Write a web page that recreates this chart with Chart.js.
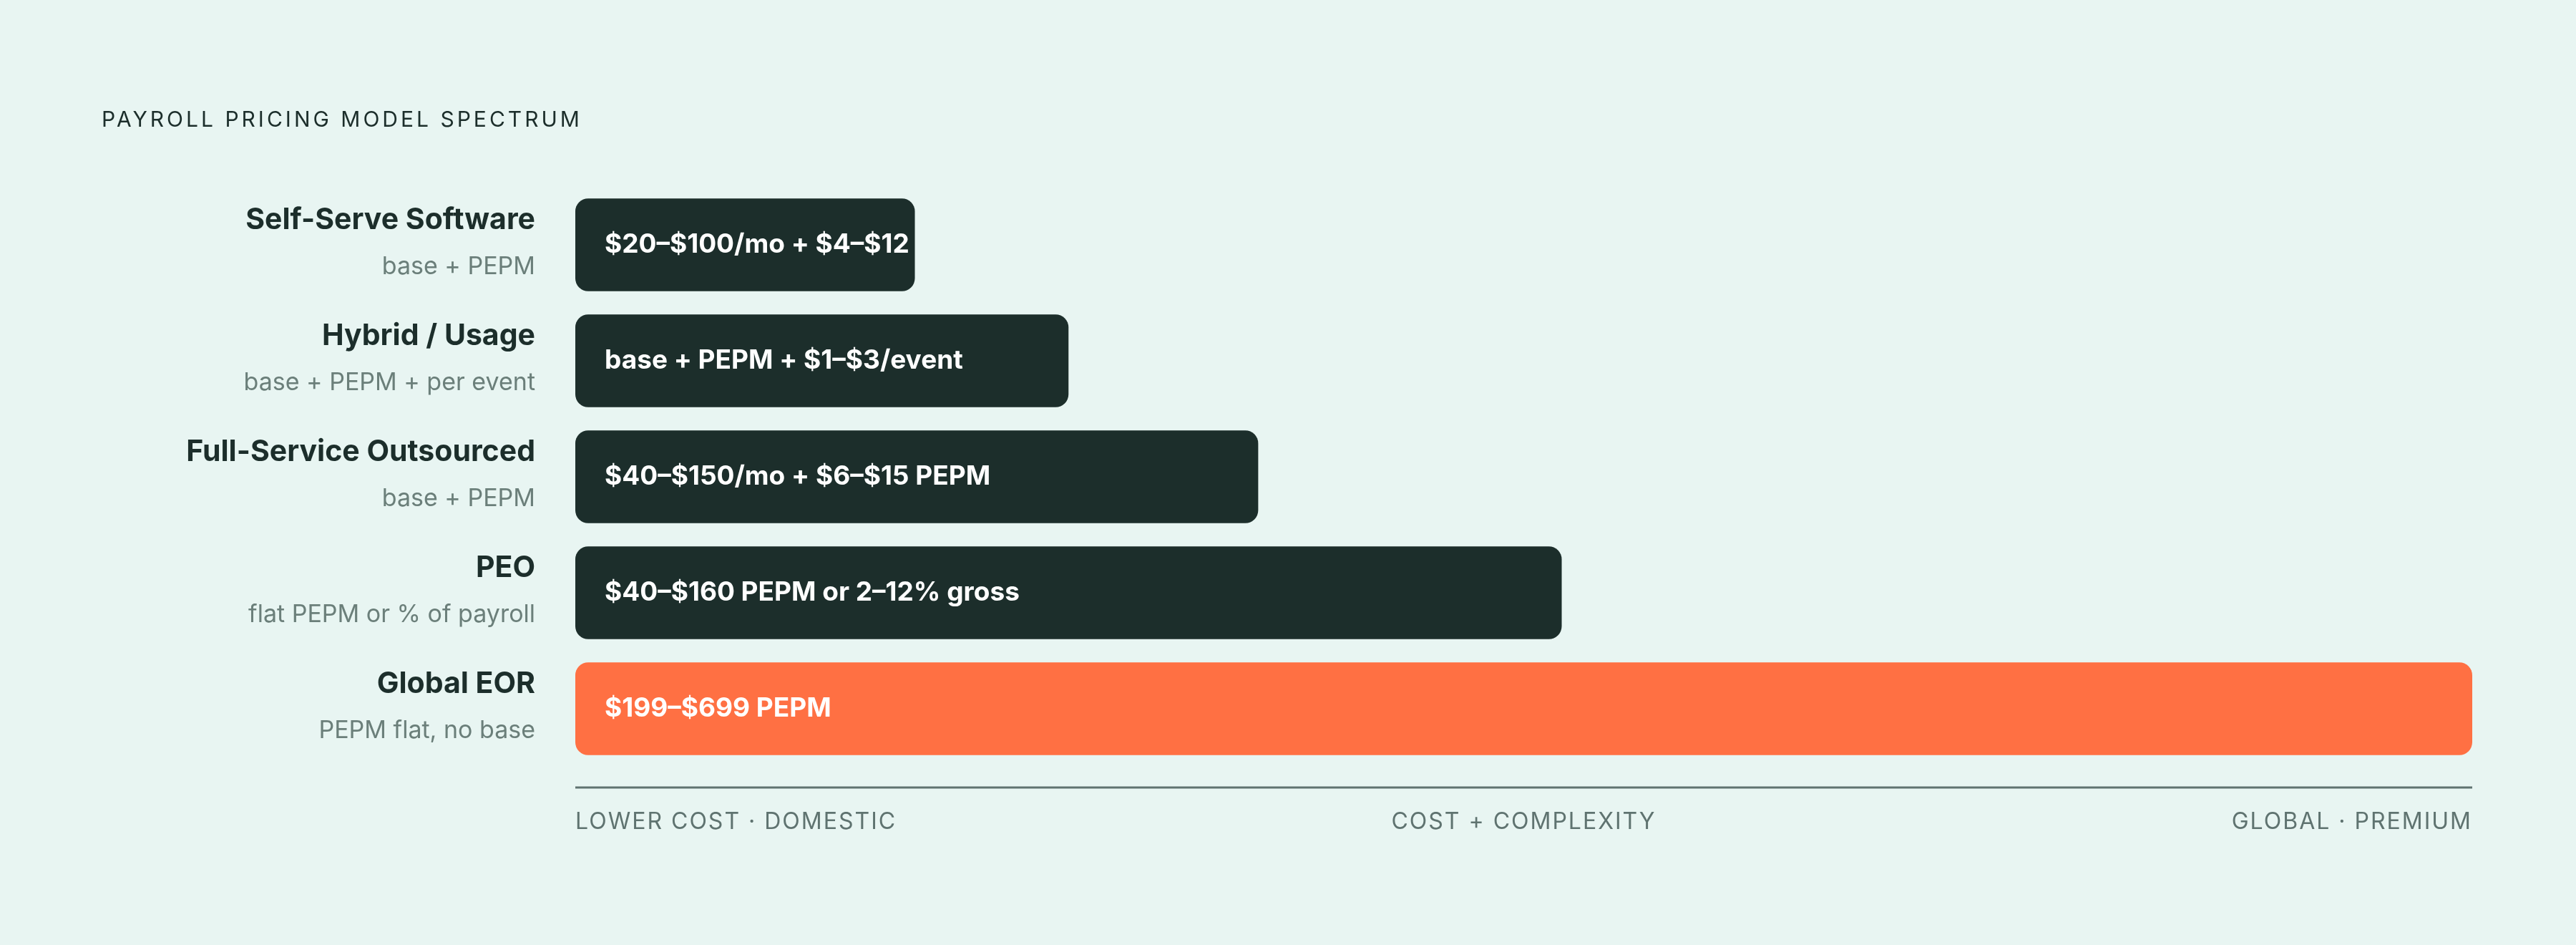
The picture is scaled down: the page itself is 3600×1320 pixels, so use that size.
<!DOCTYPE html>
<html><head><meta charset="utf-8">
<script src="https://cdn.jsdelivr.net/npm/chart.js@4"></script>
<style>html,body{margin:0;padding:0;background:#e8f5f2;}canvas{display:block;}</style>
</head><body>
<canvas id="c" width="3600" height="1320"></canvas>
<script>
const categories = ["Self-Serve Software","Hybrid / Usage","Full-Service Outsourced","PEO","Global EOR"];
const subtitles = ["base + PEPM","base + PEPM + per event","base + PEPM","flat PEPM or % of payroll","PEPM flat, no base"];
const barLabels = ["$20–$100/mo + $4–$12 PEPM","base + PEPM + $1–$3/event","$40–$150/mo + $6–$15 PEPM","$40–$160 PEPM or 2–12% gross","$199–$699 PEPM"];
const values = [17.9, 26, 36, 52, 100];
const axisLabels = ["LOWER COST · DOMESTIC","COST + COMPLEXITY","GLOBAL · PREMIUM"];
const title = "PAYROLL PRICING MODEL SPECTRUM";

const FONT = "Inter, 'DejaVu Sans', sans-serif";
const plugin = {
  id: 'deco',
  beforeDraw(chart){
    const ctx = chart.ctx;
    ctx.save(); ctx.fillStyle = '#e8f5f2'; ctx.fillRect(0,0,chart.width,chart.height); ctx.restore();
  },
  afterDatasetsDraw(chart){
    const ctx = chart.ctx, area = chart.chartArea;
    const meta = chart.getDatasetMeta(0);
    ctx.save();
    // title
    ctx.fillStyle = '#1c2e2b';
    ctx.font = '400 30px ' + FONT;
    ctx.letterSpacing = '4px';
    ctx.textBaseline = 'middle'; ctx.textAlign = 'left';
    ctx.fillText(title, 142, 168);
    ctx.letterSpacing = '0px';
    meta.data.forEach((bar, i) => {
      const y = bar.y;
      ctx.textAlign = 'right';
      ctx.fillStyle = '#1c2e2b';
      ctx.font = '700 41px ' + FONT;
      ctx.fillText(categories[i], 748, y - 34);
      ctx.fillStyle = '#6b7f7a';
      ctx.font = '400 34px ' + FONT;
      ctx.fillText(subtitles[i], 748, y + 31);
      // bar label clipped
      const h = bar.height;
      ctx.save();
      ctx.beginPath();
      ctx.rect(bar.base, y - h/2, bar.x - bar.base - 6, h);
      ctx.clip();
      ctx.textAlign = 'left';
      ctx.fillStyle = '#ffffff';
      ctx.font = '700 37px ' + FONT;
      ctx.fillText(barLabels[i], bar.base + 41, y);
      ctx.restore();
    });
    // axis line
    ctx.strokeStyle = '#5f7370'; ctx.lineWidth = 3;
    ctx.beginPath(); ctx.moveTo(area.left, 1100); ctx.lineTo(area.right, 1100); ctx.stroke();
    ctx.fillStyle = '#5f7370';
    ctx.font = '400 32px ' + FONT;
    ctx.letterSpacing = '2px';
    ctx.textAlign = 'left'; ctx.fillText(axisLabels[0], area.left, 1148);
    ctx.textAlign = 'center'; ctx.fillText(axisLabels[1], (area.left+area.right)/2, 1148);
    ctx.textAlign = 'right'; ctx.fillText(axisLabels[2], area.right, 1148);
    ctx.restore();
  }
};

new Chart(document.getElementById('c'), {
  type: 'bar',
  data: {
    labels: categories,
    datasets: [{
      data: values,
      backgroundColor: ['#1c2e2b','#1c2e2b','#1c2e2b','#1c2e2b','#ff7043'],
      borderRadius: 18,
      borderSkipped: false,
      categoryPercentage: 0.8,
      barPercentage: 1.0
    }]
  },
  options: {
    indexAxis: 'y',
    responsive: false,
    devicePixelRatio: 1,
    animation: false,
    layout: { padding: { left: 804, right: 145, top: 261, bottom: 249 } },
    plugins: { legend: { display: false }, tooltip: { enabled: false } },
    scales: {
      x: { display: false, min: 0, max: 100 },
      y: { display: false }
    }
  },
  plugins: [plugin]
});
</script>
</body></html>
